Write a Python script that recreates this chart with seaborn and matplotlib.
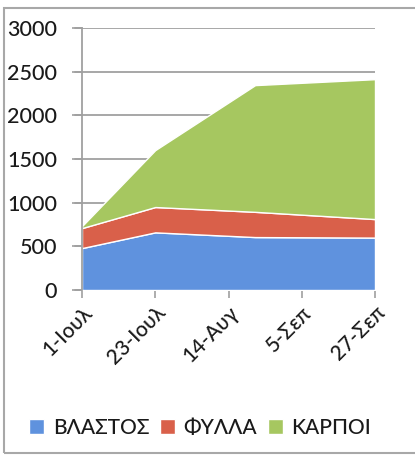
import numpy as np
import pandas as pd
import seaborn as sns
import matplotlib
matplotlib.use("Agg")
import matplotlib.pyplot as plt
from matplotlib.patches import Rectangle

# Sampling dates, as days counted from 1 July
days = [0, 22, 52, 88]
# Dry mass per plant part (stacked)
stem = [480, 660, 606, 600]
leaves = [229, 290, 289, 212]
fruits = [23, 652, 1451, 1602]

series_names = ["ΒΛΑΣΤΟΣ", "ΦΥΛΛΑ", "ΚΑΡΠΟΙ"]
series_colors = ["#5F92DE", "#D9604A", "#A6C760"]

tick_days = [0, 22, 44, 66, 88]
tick_labels = ["1-Ιουλ", "23-Ιουλ", "14-Αυγ", "5-Σεπ", "27-Σεπ"]
y_ticks = [0, 500, 1000, 1500, 2000, 2500, 3000]

df = pd.DataFrame({"day": days, series_names[0]: stem,
                   series_names[1]: leaves, series_names[2]: fruits})

sns.set_style("white")
plt.rcParams["font.family"] = ["Lato", "DejaVu Sans"]
text_color = "#1a1a1a"

fig = plt.figure(figsize=(4.15, 4.55), dpi=100)
ax = fig.add_axes([82 / 415, 1 - 290 / 455, 293 / 415, 262 / 455])

ax.stackplot(df["day"], df[series_names[0]], df[series_names[1]],
             df[series_names[2]], colors=series_colors, labels=series_names,
             zorder=2)

ax.set_xlim(tick_days[0], tick_days[-1])
ax.set_ylim(0, 3000)
ax.set_yticks(y_ticks)
ax.set_yticklabels([str(v) for v in y_ticks], fontsize=15.5,
                   color=text_color, fontweight="medium")
ax.set_xticks(tick_days)
ax.set_xticklabels(tick_labels, rotation=45, ha="right",
                   rotation_mode="anchor", fontsize=15, color=text_color,
                   fontweight="medium")

ax.yaxis.grid(True, color="#a0a0a0", linewidth=1.3, zorder=0)
ax.set_axisbelow(True)
for side in ["top", "right", "bottom"]:
    ax.spines[side].set_visible(False)
ax.spines["left"].set_color("#a0a0a0")
ax.spines["left"].set_linewidth(1.3)
ax.tick_params(axis="y", length=7, width=1.2, color="#a0a0a0", pad=11,
               left=True)
ax.tick_params(axis="x", length=6, width=1.2, color="#a0a0a0", pad=3,
               bottom=True, direction="out")
# gridlines reach out past the axis, like the tick marks
for y in y_ticks:
    ax.plot([-2.0, 0], [y, y], color="#a0a0a0", linewidth=1.3,
            clip_on=False, zorder=1)
ax.plot([tick_days[0], tick_days[-1]], [0, 0], color="#a0a0a0",
        linewidth=1.3, zorder=1)

leg = fig.legend(*ax.get_legend_handles_labels(), loc="center",
                 bbox_to_anchor=(200 / 415, 1 - 428 / 455), ncol=3,
                 frameon=False, handlelength=0.75,
                 handleheight=0.75, handletextpad=0.4, columnspacing=0.5,
                 prop={"size": 15, "weight": "medium"})
for t in leg.get_texts():
    t.set_color(text_color)

# outer chart frame
fig.patches.append(Rectangle((4 / 415, 1 - 453 / 455), 1.2, (453 - 8) / 455,
                             transform=fig.transFigure, fill=False,
                             edgecolor="#a8a8a8", linewidth=1.5))

fig.savefig("out.png", dpi=100)
